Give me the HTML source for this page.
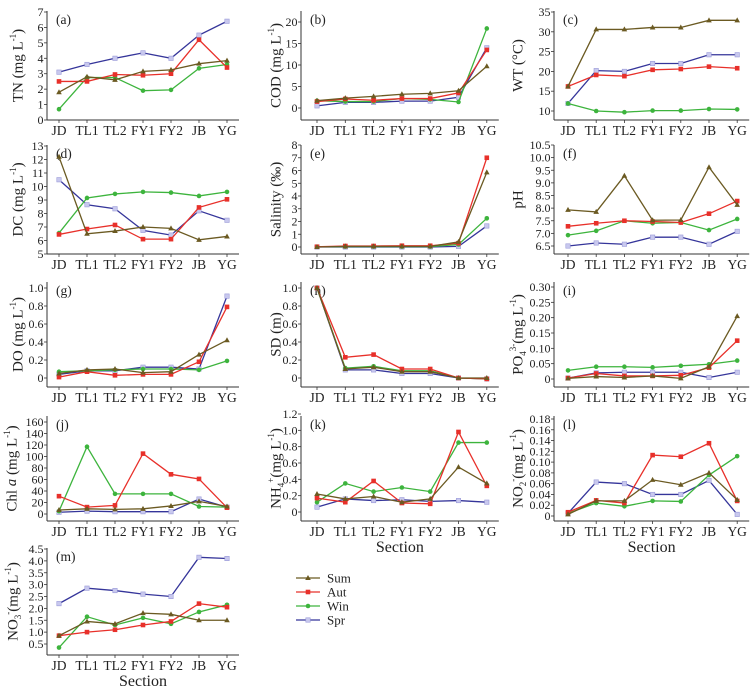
<!DOCTYPE html>
<html><head><meta charset="utf-8">
<style>
html,body{margin:0;padding:0;background:#fff;}
svg{display:block;}
text{font-family:"Liberation Serif",serif;fill:#222;}
</style></head>
<body>
<svg id="chart" width="755" height="698" viewBox="0 0 755 698" xmlns="http://www.w3.org/2000/svg"></svg>
<script>
const sections = ["JD","TL1","TL2","FY1","FY2","JB","YG"];
const seasons = ["Sum","Aut","Win","Spr"];

const tnSum=[1.8,2.8,2.6,3.15,3.25,3.65,3.85], tnAut=[2.5,2.5,2.95,2.9,3.0,5.2,3.4], tnWin=[0.7,2.75,2.75,1.9,1.95,3.35,3.6], tnSpr=[3.1,3.6,4.0,4.35,4.0,5.5,6.4];
const codSum=[1.7,2.3,2.7,3.2,3.4,4.0,9.7], codAut=[1.5,2.1,1.8,2.2,2.2,3.5,13.5], codWin=[1.7,1.5,1.5,2.2,2.0,1.4,18.5], codSpr=[0.5,1.3,1.3,1.6,1.6,2.5,14.0];
const wtSum=[16.2,30.6,30.6,31.1,31.1,32.9,32.9], wtAut=[16.2,19.1,18.8,20.4,20.6,21.2,20.8], wtWin=[11.9,10.0,9.7,10.1,10.1,10.5,10.4], wtSpr=[11.9,20.2,20.0,22.0,22.0,24.2,24.2];
const dcSum=[12.2,6.5,6.7,7.0,6.9,6.05,6.3], dcAut=[6.45,6.85,7.15,6.1,6.1,8.45,9.05], dcWin=[6.55,9.15,9.45,9.6,9.55,9.3,9.6], dcSpr=[10.5,8.65,8.35,6.75,6.4,8.2,7.5];
const salSum=[0,0.05,0.05,0.05,0.05,0.4,5.85], salAut=[0.02,0.08,0.08,0.1,0.1,0.3,7.0], salWin=[0.02,0.03,0.03,0.03,0.03,0.2,2.25], salSpr=[0,0,0,0,0,0.05,1.65];
const phSum=[7.93,7.85,9.28,7.52,7.53,9.62,8.13], phAut=[7.28,7.4,7.5,7.47,7.43,7.78,8.28], phWin=[6.93,7.1,7.5,7.4,7.43,7.13,7.57], phSpr=[6.5,6.62,6.57,6.85,6.85,6.57,7.08];
const doSum=[0.05,0.09,0.1,0.06,0.07,0.26,0.42], doAut=[0.01,0.07,0.03,0.04,0.04,0.18,0.79], doWin=[0.07,0.08,0.09,0.1,0.1,0.09,0.19], doSpr=[0.04,0.08,0.08,0.12,0.12,0.1,0.91];
const sdSum=[1.0,0.1,0.12,0.07,0.07,0,0], sdAut=[1.0,0.23,0.26,0.1,0.1,0,-0.01], sdWin=[1.0,0.11,0.13,0.08,0.08,0,-0.01], sdSpr=[1.0,0.09,0.09,0.05,0.05,0,-0.01];
const po4Sum=[0.002,0.008,0.005,0.01,0.002,0.04,0.205], po4Aut=[0.003,0.018,0.01,0.01,0.012,0.037,0.125], po4Win=[0.028,0.04,0.04,0.038,0.043,0.048,0.06], po4Spr=[0.003,0.02,0.022,0.022,0.022,0.005,0.022];
const chlSum=[7,9,8,9,14,22,13], chlAut=[31,12,15,105,69,61,11], chlWin=[5,117,35,35,35,13,12], chlSpr=[3,5,4,4,4,26,12];
const nh4Sum=[0.22,0.16,0.19,0.12,0.16,0.55,0.35], nh4Aut=[0.17,0.12,0.38,0.11,0.1,0.98,0.32], nh4Win=[0.12,0.35,0.25,0.3,0.25,0.85,0.85], nh4Spr=[0.06,0.16,0.14,0.15,0.13,0.14,0.12];
const no2Sum=[0.003,0.028,0.028,0.067,0.058,0.08,0.03], no2Aut=[0.007,0.029,0.024,0.113,0.11,0.135,0.028], no2Win=[0.005,0.024,0.018,0.028,0.027,0.076,0.111], no2Spr=[0.005,0.063,0.06,0.04,0.04,0.066,0.003];
const no3Sum=[0.85,1.45,1.35,1.8,1.75,1.5,1.5], no3Aut=[0.85,1.0,1.1,1.3,1.45,2.2,2.05], no3Win=[0.35,1.65,1.3,1.6,1.35,1.85,2.15], no3Spr=[2.2,2.85,2.75,2.6,2.5,4.15,4.1];

const ticksA=["0","1","2","3","4","5","6","7"];
const ticksB=["0","5","10","15","20"];
const ticksC=["10","15","20","25","30","35"];
const ticksD=["5","6","7","8","9","10","11","12","13"];
const ticksE=["0","1","2","3","4","5","6","7","8"];
const ticksF=["6.5","7.0","7.5","8.0","8.5","9.0","9.5","10.0","10.5"];
const ticksG=["0","0.2","0.4","0.6","0.8","1.0"];
const ticksH=["0","0.2","0.4","0.6","0.8","1.0"];
const ticksI=["0","0.05","0.10","0.15","0.20","0.25","0.30"];
const ticksJ=["0","20","40","60","80","100","120","140","160"];
const ticksK=["0","0.2","0.4","0.6","0.8","1.0","1.2"];
const ticksL=["0","0.02","0.04","0.06","0.08","0.10","0.12","0.14","0.16","0.18"];
const ticksM=["0.5","1.0","1.5","2.0","2.5","3.0","3.5","4.0","4.5"];

const colors={Sum:"#6b5a22",Aut:"#e8302a",Win:"#3db43d",Spr:"#35359a"};
const NS="http://www.w3.org/2000/svg";
const svg=document.getElementById("chart");
function mk(tag,attrs,parent){const e=document.createElementNS(NS,tag);for(const k in attrs)e.setAttribute(k,attrs[k]);(parent||svg).appendChild(e);return e;}

const cols=[{ax:47,x0:59,step:28,tx:19},{ax:301,x0:317,step:28.3,tx:277},{ax:554,x0:568,step:28.2,tx:519}];
const rows=[{top:11,bot:120},{top:145,bot:254},{top:282,bot:387},{top:416,bot:521},{top:548,bot:655}];

const sup=s=>'<tspan baseline-shift="super" font-size="9">'+s+'</tspan>';
const sub=s=>'<tspan baseline-shift="sub" font-size="9">'+s+'</tspan>';
const panels=[
 {id:"a",c:0,r:0,title:'TN (mg L'+sup('-1')+')',ticks:ticksA,v0:0,y0:120,v1:7,y1:12,s:[tnSum,tnAut,tnWin,tnSpr]},
 {id:"b",c:1,r:0,title:'COD (mg L'+sup('-1')+')',ticks:ticksB,v0:0,y0:108,v1:20,y1:22,s:[codSum,codAut,codWin,codSpr]},
 {id:"c",c:2,r:0,title:'WT (°C)',ticks:ticksC,v0:10,y0:111,v1:35,y1:12,s:[wtSum,wtAut,wtWin,wtSpr]},
 {id:"d",c:0,r:1,title:'DC (mg L'+sup('-1')+')',ticks:ticksD,v0:5,y0:254,v1:13,y1:146,s:[dcSum,dcAut,dcWin,dcSpr]},
 {id:"e",c:1,r:1,title:'Salinity (‰)',ticks:ticksE,v0:0,y0:247,v1:8,y1:145,s:[salSum,salAut,salWin,salSpr]},
 {id:"f",c:2,r:1,title:'pH',ticks:ticksF,v0:6.5,y0:246,v1:10.5,y1:145,s:[phSum,phAut,phWin,phSpr]},
 {id:"g",c:0,r:2,title:'DO (mg L'+sup('-1')+')',ticks:ticksG,v0:0,y0:378,v1:1,y1:288,s:[doSum,doAut,doWin,doSpr]},
 {id:"h",c:1,r:2,title:'SD (m)',ticks:ticksH,v0:0,y0:378,v1:1,y1:288,s:[sdSum,sdAut,sdWin,sdSpr]},
 {id:"i",c:2,r:2,title:'PO'+sub('4')+sup('3-')+'(mg L'+sup('-1')+')',ticks:ticksI,v0:0,y0:379,v1:0.3,y1:287,s:[po4Sum,po4Aut,po4Win,po4Spr]},
 {id:"j",c:0,r:3,tx:13,title:'Chl <tspan font-style="italic">a</tspan> (mg L'+sup('-1')+')',ticks:ticksJ,v0:0,y0:514,v1:160,y1:422,s:[chlSum,chlAut,chlWin,chlSpr]},
 {id:"k",c:1,r:3,title:'NH'+sub('4')+sup('+')+'(mg L'+sup('-1')+')',ticks:ticksK,v0:0,y0:512,v1:1.2,y1:414,s:[nh4Sum,nh4Aut,nh4Win,nh4Spr],section:true},
 {id:"l",c:2,r:3,title:'NO'+sub('2')+sup('-')+'(mg L'+sup('-1')+')',ticks:ticksL,v0:0,y0:516,v1:0.18,y1:419,s:[no2Sum,no2Aut,no2Win,no2Spr],section:true},
 {id:"m",c:0,r:4,tx:14,title:'NO'+sub('3')+sup('-')+'(mg L'+sup('-1')+')',ticks:ticksM,v0:0.5,y0:644,v1:4.5,y1:549,s:[no3Sum,no3Aut,no3Win,no3Spr],section:true}
];

function marker(g,season,x,y){
  const col=colors[season];let m;
  if(season==="Sum"){m=mk("polygon",{points:`${x},${y-3} ${x-2.8},${y+2} ${x+2.8},${y+2}`,fill:col},g);}
  else if(season==="Aut"){m=mk("rect",{x:x-2.3,y:y-2.3,width:4.6,height:4.6,fill:col},g);}
  else if(season==="Win"){m=mk("circle",{cx:x,cy:y,r:2.3,fill:col},g);}
  else {m=mk("rect",{x:x-2.2,y:y-2.2,width:4.4,height:4.4,fill:"#c8c8ee",stroke:"#9a9ad8","stroke-width":0.6},g);}
  
  
}

panels.forEach(p=>{
  const C=cols[p.c],R=rows[p.r];
  const g=mk("g",{});
  
  
  const yS=v=>p.y0+(v-p.v0)*(p.y1-p.y0)/(p.v1-p.v0);
  const xS=i=>C.x0+i*C.step;
  const right=xS(6)+12;
  const ya=mk("line",{x1:C.ax,y1:R.top,x2:C.ax,y2:R.bot,stroke:"#333","stroke-width":1},g);
  
  
  const xa=mk("line",{x1:C.ax,y1:R.bot,x2:right,y2:R.bot,stroke:"#333","stroke-width":1},g);
  
  
  p.ticks.forEach(t=>{
    const y=yS(parseFloat(t));
    mk("line",{x1:C.ax-3,y1:y,x2:C.ax,y2:y,stroke:"#333","stroke-width":0.8},g);
    const tl=mk("text",{x:C.ax-3.5,y:y+4,"text-anchor":"end","font-size":12},g);
    tl.textContent=t;
    
    
  });
  sections.forEach((s,i)=>{
    const x=xS(i);
    mk("line",{x1:x,y1:R.bot,x2:x,y2:R.bot+3,stroke:"#333","stroke-width":0.8},g);
    const tl=mk("text",{x:x,y:R.bot+15,"text-anchor":"middle","font-size":13.5},g);
    tl.textContent=s;
    
    
  });
  const lab=mk("text",{x:C.ax+9,y:R.top+13,"font-size":13.5},g);
  lab.textContent="("+p.id+")";
  
  
  const cy=(R.top+R.bot)/2;
  const tx=p.tx!==undefined?p.tx:C.tx;
  const yt=mk("text",{x:tx,y:cy,"text-anchor":"middle","font-size":15,transform:`rotate(-90 ${tx} ${cy})`,"dominant-baseline":"middle"},g);
  yt.innerHTML=p.title;
  
  
  if(p.section){
    const st=mk("text",{x:(C.ax+right)/2,y:R.bot+31,"text-anchor":"middle","font-size":16},g);
    st.textContent="Section";
    
    
  }
  [3,2,1,0].forEach(k=>{
    const season=seasons[k],vals=p.s[k];
    const pl=mk("polyline",{points:vals.map((v,i)=>xS(i)+","+yS(v)).join(" "),fill:"none",stroke:colors[season],"stroke-width":1.3},g);
    
    
    vals.forEach((v,i)=>marker(g,season,xS(i),yS(v)));
  });
});

const lg=mk("g",{});


seasons.forEach((s,i)=>{
  const y=578+i*14;
  const e=mk("g",{},lg);
  
  
  mk("line",{x1:296,y1:y,x2:320,y2:y,stroke:colors[s],"stroke-width":1.3},e);
  marker(e,s,308,y);
  const t=mk("text",{x:327,y:y+4.5,"font-size":13},e);
  t.textContent=s;
});
</script>
</body></html>
